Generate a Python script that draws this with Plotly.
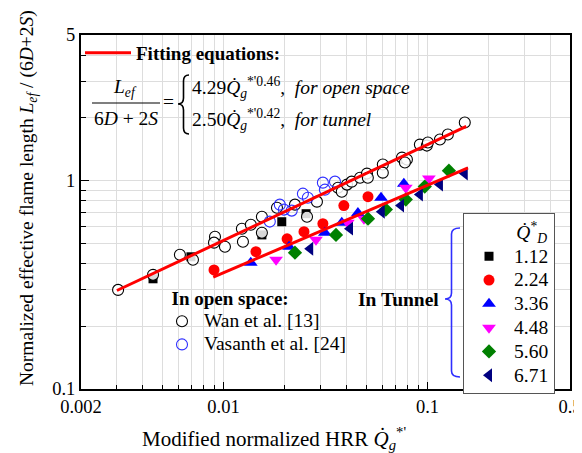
import plotly.graph_objects as go

# ---------------- data ----------------
wan_x = [0.00304, 0.00451, 0.00611, 0.00708, 0.00908, 0.00898, 0.01016, 0.0123, 0.01361,
         0.01245, 0.01542, 0.01542, 0.01828, 0.0224, 0.02566, 0.02871, 0.0364, 0.0380,
         0.0403, 0.0425, 0.0467, 0.0505, 0.0510, 0.0604, 0.0604, 0.0750, 0.0793, 0.0775,
         0.0918, 0.0993, 0.1005, 0.1151, 0.1259, 0.1524]
wan_y = [0.299, 0.353, 0.441, 0.417, 0.538, 0.504, 0.482, 0.588, 0.614,
         0.509, 0.671, 0.562, 0.741, 0.767, 0.671, 0.793, 0.925, 0.885,
         0.957, 0.989, 1.033, 1.081, 1.033, 1.195, 1.092, 1.29, 1.262, 1.221,
         1.489, 1.473, 1.523, 1.575, 1.664, 1.901]

vas_x = [0.01686, 0.01888, 0.01977, 0.0216, 0.0245, 0.0259, 0.0307, 0.0314, 0.0352]
vas_y = [0.636, 0.767, 0.726, 0.718, 0.866, 0.828, 0.978, 0.905, 0.989]

qd_labels = ["1.12", "2.24", "3.36", "4.48", "5.60", "6.71"]

qd1_x = [0.00451, 0.00692, 0.01542, 0.0193, 0.0254]
qd1_y = [0.338, 0.431, 0.549, 0.635, 0.694]
qd2_x = [0.00898, 0.01442, 0.0205, 0.0248, 0.0307, 0.0389, 0.0511]
qd2_y = [0.373, 0.456, 0.526, 0.569, 0.621, 0.759, 0.838]
qd3_x = [0.0136, 0.02095, 0.0314, 0.0380, 0.0456, 0.0592, 0.0766]
qd3_y = [0.404, 0.482, 0.562, 0.628, 0.700, 0.828, 0.967]
qd4_x = [0.0181, 0.0284, 0.0407, 0.0488, 0.0783, 0.1016]
qd4_y = [0.417, 0.520, 0.628, 0.657, 0.925, 1.023]
qd5_x = [0.0224, 0.0356, 0.0511, 0.0625, 0.0783, 0.0970, 0.1274]
qd5_y = [0.451, 0.549, 0.657, 0.726, 0.811, 0.936, 1.117]
qd6_x = [0.0266, 0.0417, 0.0597, 0.0742, 0.0918, 0.1151, 0.1524]
qd6_y = [0.471, 0.588, 0.709, 0.759, 0.857, 0.957, 1.081]

fit_open_x = [0.0030, 0.155]
fit_open_y = [0.297, 1.82]
fit_tunnel_x = [0.0089, 0.158]
fit_tunnel_y = [0.344, 1.15]

x_tick_vals = [0.002, 0.01, 0.1, 0.5]
x_tick_text = ["0.002", "0.01", "0.1", "0.5"]
x_minor_vals = [0.003, 0.004, 0.005, 0.006, 0.007, 0.008, 0.009,
                0.02, 0.03, 0.04, 0.05, 0.06, 0.07, 0.08, 0.09, 0.2, 0.3, 0.4]
y_tick_vals = [0.1, 1, 5]
y_tick_text = ["0.1", "1", "5"]
y_minor_vals = [0.2, 0.3, 0.4, 0.5, 0.6, 0.7, 0.8, 0.9, 2, 3, 4]

# ---------------- layout helpers ----------------
# the page body has an 8px default margin, so the figure is shifted by that much
OFF = 8
W, H = 582 - OFF + 6, 453 - OFF
L, T, B = 81 - OFF, 35 - OFF, 64
R = W - L - 489
PW, PH = W - L - R, H - T - B
FONT = "Liberation Serif"


def px(xp):  # reference-picture pixel -> paper fraction
    return (xp - 81) / PW


def py(yp):
    return (389 - yp) / PH


def big(s, size=19.5):
    return f'<span style="font-size:{size}px">{s}</span>'


fig = go.Figure()

qd_styles = [
    ("square", "black", 9),
    ("circle", "#ff0000", 11),
    ("triangle-up", "#0000ff", 12),
    ("triangle-down", "#ff00ff", 12),
    ("diamond", "#008000", 11),
    ("triangle-left", "#000080", 12),
]
qd_data = [(qd1_x, qd1_y), (qd2_x, qd2_y), (qd3_x, qd3_y),
           (qd4_x, qd4_y), (qd5_x, qd5_y), (qd6_x, qd6_y)]

# square markers first (partly hidden behind open circles)
fig.add_trace(go.Scatter(x=qd1_x, y=qd1_y, mode="markers", name=big(qd_labels[0]),
                         marker=dict(symbol="square", color="black", size=9),
                         legend="legend", legendrank=1))

fig.add_trace(go.Scatter(x=wan_x, y=wan_y, mode="markers", name=big("Wan et al. [13]"),
                         marker=dict(symbol="circle", color="rgba(255,255,255,0.85)", size=11,
                                     line=dict(color="black", width=1.1)),
                         legend="legend2", legendrank=1))
fig.add_trace(go.Scatter(x=vas_x, y=vas_y, mode="markers", name=big("Vasanth et al. [24]"),
                         marker=dict(symbol="circle", color="rgba(255,255,255,0)", size=11,
                                     line=dict(color="#2f2fff", width=1.1)),
                         legend="legend2", legendrank=2))

for i in range(1, 6):
    sym, col, sz = qd_styles[i]
    xs, ys = qd_data[i]
    fig.add_trace(go.Scatter(x=xs, y=ys, mode="markers", name=big(qd_labels[i]),
                             marker=dict(symbol=sym, color=col, size=sz),
                             legend="legend", legendrank=i + 1))

fig.add_trace(go.Scatter(x=fit_open_x, y=fit_open_y, mode="lines",
                         name="<b>Fitting equations:</b>",
                         line=dict(color="#ff0000", width=3), legend="legend3"))
fig.add_trace(go.Scatter(x=fit_tunnel_x, y=fit_tunnel_y, mode="lines",
                         line=dict(color="#ff0000", width=3), showlegend=False))

grid_col = "#dddddd"
fig.update_xaxes(type="log", range=[-2.69897, -0.30103],
                 tickmode="array", tickvals=x_tick_vals, ticktext=x_tick_text,
                 ticks="inside", ticklen=7, tickwidth=1.2, tickcolor="black",
                 showline=True, linecolor="black", linewidth=2, mirror=True,
                 showgrid=True, gridcolor=grid_col, gridwidth=1,
                 minor=dict(tickmode="array", tickvals=x_minor_vals, ticks="inside",
                            ticklen=4, tickwidth=1, tickcolor="black",
                            showgrid=True, gridcolor=grid_col, gridwidth=1),
                 tickfont=dict(family=FONT, size=18.5, color="black"),
                 ticklabeloverflow="allow",
                 zeroline=False, automargin=False)
fig.update_yaxes(type="log", range=[-1, 0.69897],
                 tickmode="array", tickvals=y_tick_vals, ticktext=y_tick_text,
                 ticks="inside", ticklen=8, tickwidth=1.2, tickcolor="black",
                 showline=True, linecolor="black", linewidth=2, mirror=True,
                 showgrid=True, gridcolor=grid_col, gridwidth=1,
                 minor=dict(tickmode="array", tickvals=y_minor_vals, ticks="inside",
                            ticklen=5, tickwidth=1, tickcolor="black",
                            showgrid=True, gridcolor=grid_col, gridwidth=1),
                 tickfont=dict(family=FONT, size=18.5, color="black"),
                 zeroline=False, automargin=False)

annotations = [
    # axis titles
    dict(x=px(274), y=py(438), text="Modified normalized HRR <i>Q̇</i><sub><i>g</i></sub><sup>*'</sup>",
         font=dict(size=21)),
    dict(x=px(28), y=py(198), textangle=-90,
         text="Normalized effective flame length <i>L</i><sub><i>ef</i></sub> / (6<i>D</i>+2<i>S</i>)",
         font=dict(size=19.5)),
    # equation
    dict(x=px(125), y=py(88), text="<i>L</i><sub><i>ef</i></sub>", font=dict(size=19.5)),
    dict(x=px(126), y=py(118), text="6<i>D</i> + 2<i>S</i>", font=dict(size=19.5)),
    dict(x=px(168), y=py(102), text="=", font=dict(size=19.5)),
    dict(x=px(190), y=py(87), xanchor="left",
         text="4.29<i>Q̇</i><sub><i>g</i></sub><sup>*'0.46</sup>,  <i>for open space</i>",
         font=dict(size=19.5)),
    dict(x=px(190), y=py(119), xanchor="left",
         text="2.50<i>Q̇</i><sub><i>g</i></sub><sup>*'0.42</sup>,  <i>for tunnel</i>",
         font=dict(size=19.5)),
    dict(x=px(441), y=py(299), xanchor="right", text="<b>In Tunnel</b>", font=dict(size=19.5)),
]
for a in annotations:
    a.setdefault("xanchor", "center")
    a.setdefault("yanchor", "middle")
    a.update(xref="paper", yref="paper", showarrow=False)
    a["font"].update(family=FONT, color="black")
fig.update_layout(annotations=annotations)


def brace_path(xo, xi, xt, y0, ym, y1, r):
    # left-pointing curly brace: outer ends at x=xo, stem at xi, tip at xt
    return (f"M {px(xo)},{py(y0)} Q {px(xi)},{py(y0)} {px(xi)},{py(y0 + r)} "
            f"L {px(xi)},{py(ym - r)} Q {px(xi)},{py(ym)} {px(xt)},{py(ym)} "
            f"Q {px(xi)},{py(ym)} {px(xi)},{py(ym + r)} "
            f"L {px(xi)},{py(y1 - r)} Q {px(xi)},{py(y1)} {px(xo)},{py(y1)}")


shapes = [
    dict(type="line", xref="paper", yref="paper", x0=px(92), x1=px(160), y0=py(103), y1=py(103),
         line=dict(color="black", width=1.2)),
    dict(type="path", xref="paper", yref="paper",
         path=brace_path(189, 183.5, 178, 75, 104, 134, 6), line=dict(color="black", width=1.6)),
    dict(type="path", xref="paper", yref="paper",
         path=brace_path(460, 451.5, 445, 228, 299, 377, 6), line=dict(color="#2f2fff", width=1.6)),
]
fig.update_layout(shapes=shapes)

fig.update_layout(
    width=W, height=H, margin=dict(l=L, r=R, t=T, b=B, autoexpand=False),
    paper_bgcolor="white", plot_bgcolor="white",
    font=dict(family=FONT, size=18, color="black"),
    legend=dict(x=px(463), y=py(213), xanchor="left", yanchor="top",
                bgcolor="white", bordercolor="#555555", borderwidth=1,
                font=dict(family=FONT, size=16, color="black"),
                title=dict(text="<i>Q̇</i><sup>*</sup><sub><i>D</i></sub>\u00a0", side="top right",
                           font=dict(family=FONT, size=19.5, color="black")),
                itemwidth=40, tracegroupgap=0),
    legend2=dict(x=px(160), y=py(280), xanchor="left", yanchor="top",
                 bgcolor="rgba(0,0,0,0)", borderwidth=0,
                 font=dict(family=FONT, size=15.5, color="black"),
                 title=dict(text="\u00a0\u00a0<b>In open space:</b>", side="top",
                            font=dict(family=FONT, size=19, color="black")),
                 itemwidth=34),
    legend3=dict(x=px(80), y=py(34), xanchor="left", yanchor="top",
                 bgcolor="rgba(0,0,0,0)", borderwidth=0,
                 font=dict(family=FONT, size=19, color="black"),
                 itemwidth=46),
)

fig.write_html("out.html", post_script="document.body.style.overflow='hidden';")
